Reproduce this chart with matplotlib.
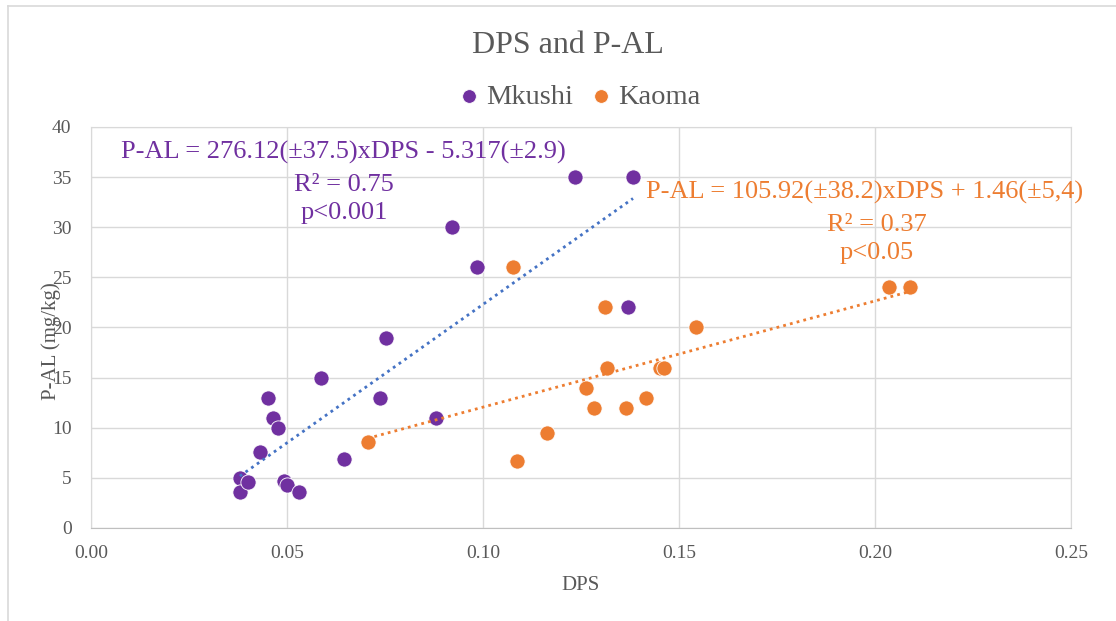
import matplotlib.pyplot as plt
import numpy as np
from matplotlib.lines import Line2D

plt.rcParams['font.family'] = ['Liberation Serif', 'DejaVu Serif']

# Mkushi
mk_dps = [0.0380, 0.0380, 0.0401, 0.0431, 0.0452, 0.0465, 0.0476, 0.0492, 0.0501, 0.0531,
          0.0586, 0.0645, 0.0737, 0.0753, 0.0881, 0.0922, 0.0984, 0.1236, 0.1371, 0.1383]
mk_pal = [4.95, 3.6, 4.6, 7.6, 13.0, 11.0, 10.0, 4.7, 4.3, 3.6,
          15.0, 6.9, 13.0, 19.0, 11.0, 30.0, 26.0, 35.0, 22.0, 35.0]

# Kaoma
ka_dps = [0.0706, 0.1077, 0.1088, 0.1163, 0.1263, 0.1284, 0.1311, 0.1317, 0.1364, 0.1416,
          0.1453, 0.1463, 0.1543, 0.2036, 0.2089]
ka_pal = [8.6, 26.0, 6.7, 9.45, 14.0, 12.0, 22.0, 16.0, 12.0, 13.0,
          16.0, 16.0, 20.0, 24.0, 24.0]

# trendline coefficients as printed on the chart
mk_fit = (276.12, -5.317)
ka_fit = (105.92, 1.46)

mk_text = ['P-AL = 276.12(±37.5)xDPS - 5.317(±2.9)', 'R² = 0.75', 'p<0.001']
ka_text = ['P-AL = 105.92(±38.2)xDPS + 1.46(±5,4)', 'R² = 0.37', 'p<0.05']

purple = '#7030A0'
orange = '#ED7D31'
blue = '#4472C4'
grey = '#595959'

fig = plt.figure(figsize=(11.16, 6.21), dpi=100)
ax = fig.add_axes([0.0815, 0.1498, 0.878, 0.6457])

ax.scatter(mk_dps, mk_pal, s=120, color=purple, edgecolor='white', linewidth=0.6,
           label='Mkushi', zorder=3)
ax.scatter(ka_dps, ka_pal, s=120, color=orange, edgecolor='white', linewidth=0.6,
           label='Kaoma', zorder=3)

# linear trendlines
xs = np.array([min(mk_dps), max(mk_dps)])
ax.plot(xs, mk_fit[0] * xs + mk_fit[1], color=blue, lw=2, ls=(0, (1, 1.5)), zorder=4)
xs = np.array([min(ka_dps), max(ka_dps)])
ax.plot(xs, ka_fit[0] * xs + ka_fit[1], color=orange, lw=2, ls=(0, (1, 1.5)), zorder=4)

# equation labels
for (x, y), s in zip([(0.0645, 37.5), (0.0645, 34.2), (0.0645, 31.4)], mk_text):
    ax.text(x, y, s, color=purple, fontsize=19, ha='center', va='center', zorder=5)
for (x, y), s in zip([(0.1974, 33.5), (0.2005, 30.2), (0.2005, 27.4)], ka_text):
    ax.text(x, y, s, color=orange, fontsize=19, ha='center', va='center', zorder=5)

ax.set_xlim(0, 0.25)
ax.set_ylim(0, 40)
ax.set_xticks(np.arange(0, 0.2501, 0.05))
ax.set_yticks(np.arange(0, 41, 5))
ax.xaxis.set_major_formatter(plt.FormatStrFormatter('%.2f'))
ax.tick_params(length=0, labelsize=14, labelcolor=grey)
ax.tick_params(axis='x', pad=12)
ax.tick_params(axis='y', pad=14)
ax.grid(True, color='#D9D9D9', lw=1)
ax.set_axisbelow(True)
for side in ['top', 'right', 'left']:
    ax.spines[side].set_color('#D9D9D9')
ax.spines['bottom'].set_color('#BFBFBF')

ax.set_xlabel('DPS', fontsize=15, color=grey, labelpad=10.5)
ax.set_ylabel('P-AL (mg/kg)', fontsize=15, color=grey)
ax.yaxis.set_label_coords(-0.031, 0.466)

fig.text(0.509, 0.926, 'DPS and P-AL', fontsize=23, color=grey, ha='center', va='center')
ax.legend(loc='center', bbox_to_anchor=(0.498, 1.075), ncol=2, frameon=False,
          fontsize=20.5, labelcolor=grey, handlelength=0.8, handletextpad=0.2,
          columnspacing=0.6, markerscale=0.9)

# chart frame
fig.add_artist(Line2D([8 / 1116, 8 / 1116], [0, 1 - 6 / 621], color='#D9D9D9', lw=1.2))
fig.add_artist(Line2D([8 / 1116, 1], [1 - 6 / 621, 1 - 6 / 621], color='#D9D9D9', lw=1.2))

fig.savefig('out.png', dpi=100)
